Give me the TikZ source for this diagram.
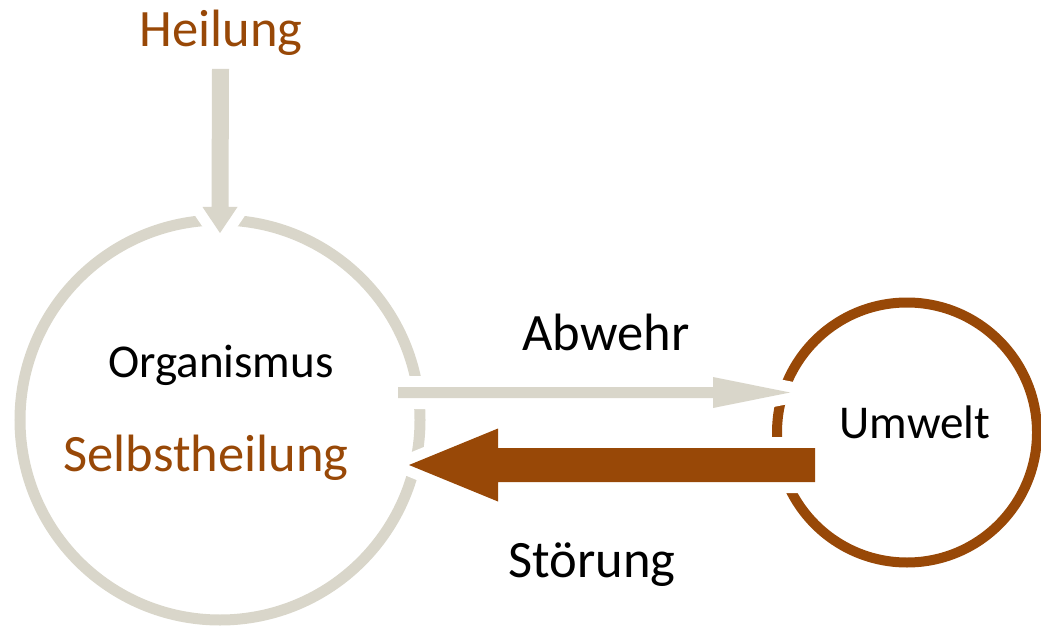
\documentclass[tikz,border=0pt]{standalone}
\usepackage{fontspec}
\setmainfont{Carlito}
\usetikzlibrary{calc}
\definecolor{lgray}{HTML}{D9D6CA}
\definecolor{brn}{HTML}{984807}
\begin{document}
\begin{tikzpicture}[x=0.75pt,y=-0.75pt,
  ring/.style={draw=#1,line width=8pt,circle,inner sep=0pt},
  bigtxt/.style={font=\fontsize{39.4}{45}\selectfont,anchor=base,inner sep=0pt},
  midtxt/.style={font=\fontsize{35.3}{40}\selectfont,anchor=base,inner sep=0pt},
  gap/.style={draw=white,fill=white,line width=16.5pt,line join=round},
]
\useasboundingbox (0,0) rectangle (1041,627);
% circles
\draw[lgray,line width=8.25pt] (220,420) circle[radius=150pt];
\coordinate (orgc) at (220,420);
\draw[brn,line width=7.5pt] (907,432.5) circle[radius=97.5pt];
\coordinate (umc) at (907,432.5);
% texts
\node[bigtxt,text=brn] (heil) at (221,47) {Heilung};
\node[midtxt] (org) at (221,377) {Organismus};
\node[bigtxt,text=brn] (selbst) at (206,471) {Selbstheilung};
\node[bigtxt] (abwehr) at (606,350) {Abwehr};
\node[midtxt] (umwelt) at (915,438) {Umwelt};
\node[bigtxt] (stoer) at (592,577) {Störung};
% arrow end points
\coordinate (hs) at ($(heil.base)+(-0.5,22)$);
\coordinate (he) at ($(orgc)+(0,-187)$);
\coordinate (gs) at (398,392.5);
\coordinate (ge) at (790,392.5);
\coordinate (bs) at (815,465);
\coordinate (be) at (409,465);
% arrow shapes
\def\arrowH{(hs)++(-8.5,0) -- ($(he)+(-8.5,-26)$) -- ($(he)+(-17.5,-26)$) -- (he) -- ($(he)+(17.5,-26)$) -- ($(he)+(8.5,-26)$) -- ($(hs)+(8.5,0)$) -- cycle}
\def\arrowG{($(gs)+(0,-5.5)$) -- ($(ge)+(-77,-5.5)$) -- ($(ge)+(-77,-15.5)$) -- (ge) -- ($(ge)+(-77,15.5)$) -- ($(ge)+(-77,5.5)$) -- ($(gs)+(0,5.5)$) -- cycle}
\def\arrowB{($(bs)+(0,-17)$) -- ($(be)+(89,-17)$) -- ($(be)+(89,-36.5)$) -- (be) -- ($(be)+(89,36.5)$) -- ($(be)+(89,17)$) -- ($(bs)+(0,17)$) -- cycle}
\path[gap] ($(hs)+(-8.5,0)$) -- ($(he)+(-8.5,-26)$) -- ($(he)+(-17.5,-26)$) -- (he) -- ($(he)+(17.5,-26)$) -- ($(he)+(8.5,-26)$) -- ($(hs)+(8.5,0)$) -- cycle;
\path[gap] \arrowG;
\path[gap] \arrowB;
\fill[lgray] ($(hs)+(-8.5,0)$) -- ($(he)+(-8.5,-26)$) -- ($(he)+(-17.5,-26)$) -- (he) -- ($(he)+(17.5,-26)$) -- ($(he)+(8.5,-26)$) -- ($(hs)+(8.5,0)$) -- cycle;
\fill[lgray] \arrowG;
\fill[brn] \arrowB;
\end{tikzpicture}
\end{document}
